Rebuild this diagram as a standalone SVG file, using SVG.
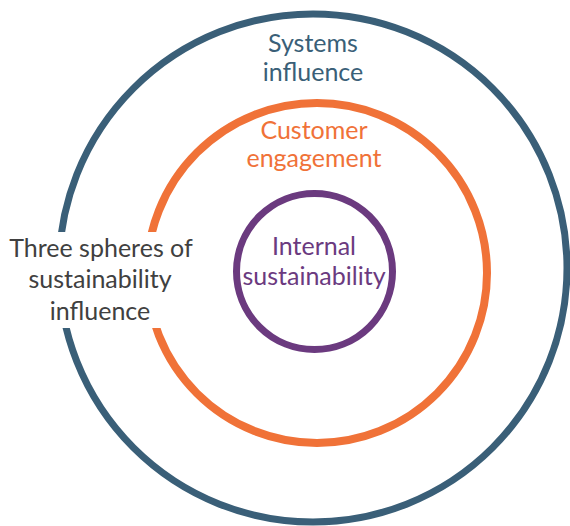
<svg xmlns="http://www.w3.org/2000/svg" width="570" height="526" viewBox="0 0 570 526">
  <style>
    .ring { fill: none; }
    .lbl { font-family: Lato, "Noto Sans", "DejaVu Sans", sans-serif; font-size: 25px; text-anchor: middle; }
  </style>
  <rect width="570" height="526" fill="#ffffff"/>
  <g id="systems">
    <circle class="ring" cx="313" cy="268" r="254" stroke="#3a5f78" stroke-width="7"/>
    <text class="lbl" fill="#3a5f78" x="313" y="52">Systems</text>
    <text class="lbl" fill="#3a5f78" x="313" y="81">influence</text>
  </g>
  <g id="customer">
    <circle class="ring" cx="317" cy="273" r="170" stroke="#f07238" stroke-width="8"/>
    <text class="lbl" fill="#f07238" x="314" y="139">Customer</text>
    <text class="lbl" fill="#f07238" x="314" y="167">engagement</text>
  </g>
  <g id="internal">
    <circle class="ring" cx="314.5" cy="271.5" r="78" stroke="#6b3a7f" stroke-width="7"/>
    <text class="lbl" fill="#6b3a7f" x="314" y="255">Internal</text>
    <text class="lbl" fill="#6b3a7f" x="314" y="285">sustainability</text>
  </g>
  <g id="title">
    <rect x="0" y="232" width="200" height="96" fill="#ffffff"/>
    <text class="lbl" fill="#404040" x="101" y="257">Three spheres of</text>
    <text class="lbl" fill="#404040" x="100" y="288">sustainability</text>
    <text class="lbl" fill="#404040" x="100" y="320">influence</text>
  </g>
</svg>
